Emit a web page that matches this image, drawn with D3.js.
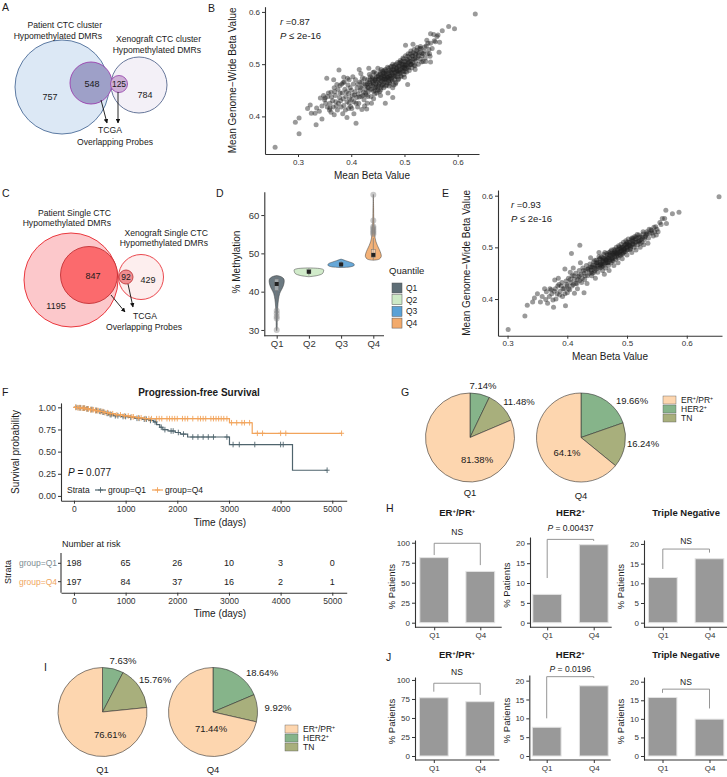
<!DOCTYPE html>
<html><head><meta charset="utf-8">
<script src="https://cdn.jsdelivr.net/npm/d3@7"></script>
<style>body{margin:0;background:#fff}svg{display:block}</style>
</head><body><svg id="c" width="727" height="777"></svg>
<script>
// ---------------- DATA ----------------
const vennACounts = [757, 548, 125, 784];   // patient only, patient∩TCGA, xeno∩TCGA, xeno only
const vennCCounts = [1195, 847, 92, 429];
const scatterB = [
[0.257,0.341],[0.295,0.389],[0.302,0.397],[0.302,0.367],[0.318,0.415],[0.323,0.422],[0.325,0.406],[0.332,0.406],[0.335,0.416],[0.334,0.384],
[0.345,0.395],[0.342,0.435],[0.351,0.435],[0.354,0.473],[0.360,0.416],[0.362,0.446],[0.367,0.470],[0.368,0.403],[0.377,0.489],[0.379,0.459],
[0.386,0.475],[0.409,0.387],[0.420,0.413],[0.429,0.414],[0.442,0.434],[0.464,0.425],[0.478,0.436],[0.506,0.461],[0.502,0.536],[0.516,0.538],
[0.530,0.534],[0.549,0.540],[0.549,0.504],[0.549,0.558],[0.555,0.557],[0.561,0.553],[0.563,0.556],[0.566,0.542],[0.565,0.523],[0.571,0.564],
[0.583,0.572],[0.594,0.568],[0.633,0.596],[0.558,0.543],[0.542,0.546],[0.533,0.521],
[0.380,0.430],[0.383,0.445],[0.386,0.421],[0.388,0.452],[0.390,0.438],[0.392,0.428],[0.394,0.460],[0.395,0.444],[0.397,0.434],[0.399,0.419],
[0.400,0.450],[0.402,0.440],[0.404,0.462],[0.405,0.428],[0.407,0.447],[0.408,0.470],[0.410,0.436],[0.411,0.455],[0.413,0.443],[0.414,0.425],
[0.416,0.466],[0.417,0.450],[0.419,0.438],[0.420,0.458],[0.421,0.474],[0.423,0.446],[0.424,0.432],[0.426,0.462],[0.427,0.452],[0.428,0.441],
[0.430,0.470],[0.431,0.456],[0.432,0.447],[0.434,0.480],[0.435,0.463],[0.436,0.452],[0.437,0.438],[0.439,0.472],[0.440,0.458],[0.441,0.465],
[0.442,0.448],[0.443,0.485],[0.444,0.470],[0.445,0.455],[0.446,0.462],[0.447,0.476],[0.448,0.445],[0.449,0.466],[0.450,0.492],[0.451,0.458],
[0.452,0.472],[0.453,0.464],[0.454,0.481],[0.455,0.450],[0.456,0.468],[0.457,0.476],[0.458,0.460],[0.459,0.487],[0.460,0.470],[0.461,0.455],
[0.462,0.478],[0.463,0.466],[0.464,0.490],[0.465,0.472],[0.466,0.460],[0.467,0.482],[0.468,0.475],[0.469,0.445],[0.470,0.468],[0.471,0.488],
[0.472,0.478],[0.473,0.462],[0.474,0.495],[0.475,0.473],[0.476,0.483],[0.477,0.468],[0.478,0.455],[0.479,0.490],[0.480,0.478],[0.481,0.470],
[0.482,0.498],[0.483,0.484],[0.484,0.465],[0.485,0.491],[0.486,0.476],[0.487,0.503],[0.488,0.486],[0.489,0.472],[0.490,0.495],[0.491,0.482],
[0.492,0.507],[0.493,0.490],[0.494,0.476],[0.495,0.500],[0.496,0.487],[0.497,0.512],[0.498,0.494],[0.499,0.480],[0.500,0.505],[0.501,0.491],
[0.502,0.516],[0.503,0.498],[0.504,0.485],[0.505,0.509],[0.506,0.495],[0.507,0.520],[0.508,0.503],[0.509,0.488],[0.510,0.512],[0.511,0.499],
[0.512,0.525],[0.513,0.506],[0.514,0.493],[0.515,0.516],[0.516,0.503],[0.518,0.528],[0.519,0.510],[0.520,0.497],[0.521,0.519],[0.522,0.506],
[0.524,0.532],[0.525,0.513],[0.526,0.500],[0.528,0.522],[0.530,0.510],[0.531,0.530],[0.533,0.516],[0.535,0.505],[0.537,0.525],[0.539,0.512],
[0.541,0.535],[0.543,0.520],[0.546,0.528],[0.548,0.515],
[0.365,0.430],[0.370,0.440],[0.372,0.420],[0.375,0.452],[0.378,0.436],[0.360,0.425],[0.355,0.418],[0.350,0.432],[0.345,0.420],[0.340,0.410],
[0.348,0.440],[0.357,0.445],[0.362,0.408],[0.368,0.455],[0.374,0.412],[0.384,0.405],[0.392,0.398],[0.396,0.470],[0.401,0.415],[0.412,0.418],
[0.418,0.482],[0.425,0.420],[0.433,0.492],[0.438,0.425],
[0.445,0.468],[0.450,0.470],[0.455,0.474],[0.460,0.478],[0.465,0.480],[0.470,0.483],[0.475,0.487],[0.480,0.489],[0.485,0.493],[0.490,0.497],
[0.495,0.492],[0.500,0.498],[0.452,0.462],[0.458,0.467],[0.463,0.471],[0.468,0.474],[0.473,0.477],[0.478,0.480],[0.483,0.478],[0.488,0.482],
[0.447,0.457],[0.442,0.462],[0.437,0.460],[0.432,0.455],[0.440,0.475],[0.447,0.482],[0.455,0.485],[0.462,0.488],[0.470,0.492],[0.476,0.496],
[0.484,0.500],[0.492,0.502],[0.498,0.486],[0.504,0.492],[0.510,0.505],[0.516,0.510],[0.505,0.500],[0.512,0.500],[0.450,0.450],[0.456,0.455],
[0.465,0.458],[0.472,0.465],
[0.352,0.425],[0.356,0.438],[0.359,0.412],[0.363,0.437],[0.366,0.418],[0.369,0.447],[0.371,0.428],[0.373,0.461],[0.376,0.425],[0.379,0.445],
[0.381,0.418],[0.382,0.462],[0.385,0.434],[0.387,0.466],[0.389,0.412],[0.391,0.447],[0.393,0.473],[0.396,0.425],[0.398,0.455],[0.401,0.432],
[0.403,0.476],[0.406,0.441],[0.409,0.425],[0.412,0.462],[0.415,0.437],[0.418,0.455],[0.422,0.440],[0.425,0.472],[0.428,0.460],[0.431,0.438],
[0.434,0.466],[0.436,0.476],[0.439,0.452],[0.441,0.484],[0.444,0.443],[0.446,0.472],[0.449,0.455],[0.451,0.478],[0.453,0.447],[0.456,0.490],
[0.458,0.472],[0.461,0.462],[0.463,0.482],[0.466,0.470],[0.468,0.494],[0.471,0.458],[0.473,0.485],[0.476,0.470],[0.478,0.500],[0.481,0.484],
[0.483,0.462],[0.486,0.488],[0.488,0.470],[0.491,0.503],[0.493,0.478],[0.496,0.495],[0.498,0.510],[0.501,0.486],[0.503,0.505],[0.506,0.515],
[0.508,0.493],[0.511,0.520],[0.513,0.500],[0.516,0.522],[0.518,0.498],[0.521,0.512],[0.523,0.526],[0.526,0.516],[0.529,0.530],[0.532,0.504],
[0.535,0.520],[0.538,0.533],[0.540,0.505],[0.544,0.540],[0.547,0.520],[0.552,0.530],[0.556,0.545],[0.460,0.483],[0.465,0.486],[0.470,0.475],
[0.475,0.478],[0.480,0.495],[0.485,0.486],[0.490,0.488],[0.495,0.505],[0.500,0.493],[0.455,0.480],[0.450,0.476],[0.445,0.450],[0.440,0.468],
[0.435,0.470],[0.430,0.462],[0.427,0.445],[0.420,0.466],[0.457,0.458],[0.462,0.475],[0.467,0.465],[0.472,0.472],[0.477,0.490],[0.482,0.476],
[0.487,0.495],[0.492,0.485],[0.497,0.500],[0.502,0.500],[0.507,0.508],[0.514,0.515],[0.520,0.520],[0.525,0.523],[0.415,0.490],[0.385,0.465],
[0.395,0.415],[0.405,0.405],[0.430,0.425],[0.455,0.440],[0.480,0.460],[0.500,0.475],[0.520,0.490]
];
const scatterE = [
[0.301,0.341],[0.329,0.367],[0.333,0.388],[0.342,0.394],[0.355,0.394],[0.364,0.399],[0.365,0.414],[0.377,0.384],[0.379,0.437],[0.397,0.387],
[0.396,0.458],[0.407,0.488],[0.421,0.504],[0.412,0.411],[0.428,0.412],[0.549,0.524],[0.555,0.548],[0.559,0.556],[0.563,0.556],[0.565,0.572],
[0.566,0.546],[0.576,0.565],[0.587,0.568],[0.654,0.598],[0.545,0.539],[0.557,0.544],[0.534,0.527],[0.540,0.534],
[0.370,0.405],[0.373,0.418],[0.376,0.398],[0.380,0.420],[0.383,0.410],[0.386,0.428],[0.388,0.415],[0.391,0.432],[0.393,0.420],[0.396,0.410],
[0.398,0.435],[0.400,0.425],[0.402,0.440],[0.404,0.418],[0.406,0.432],[0.408,0.445],[0.410,0.428],[0.412,0.438],[0.414,0.450],[0.416,0.430],
[0.418,0.443],[0.420,0.455],[0.421,0.436],[0.423,0.448],[0.425,0.440],[0.426,0.460],[0.428,0.450],[0.429,0.438],[0.431,0.455],[0.432,0.465],
[0.434,0.445],[0.435,0.458],[0.437,0.450],[0.438,0.468],[0.440,0.456],[0.441,0.445],[0.442,0.462],[0.444,0.472],[0.445,0.452],[0.446,0.465],
[0.448,0.458],[0.449,0.475],[0.450,0.463],[0.451,0.452],[0.452,0.470],[0.454,0.478],[0.455,0.460],[0.456,0.468],[0.457,0.482],[0.458,0.465],
[0.459,0.455],[0.460,0.474],[0.461,0.486],[0.462,0.468],[0.463,0.478],[0.464,0.460],[0.465,0.475],[0.466,0.488],[0.467,0.470],[0.468,0.480],
[0.469,0.465],[0.470,0.490],[0.471,0.476],[0.472,0.484],[0.473,0.470],[0.474,0.495],[0.475,0.480],[0.476,0.488],[0.477,0.474],[0.478,0.496],
[0.479,0.482],[0.480,0.490],[0.481,0.477],[0.482,0.500],[0.483,0.487],[0.484,0.494],[0.485,0.480],[0.486,0.503],[0.487,0.490],[0.488,0.497],
[0.489,0.484],[0.490,0.506],[0.491,0.494],[0.492,0.500],[0.493,0.488],[0.494,0.510],[0.495,0.497],[0.496,0.504],[0.497,0.492],[0.498,0.513],
[0.499,0.500],[0.500,0.507],[0.501,0.495],[0.502,0.516],[0.504,0.503],[0.505,0.510],[0.506,0.498],[0.508,0.518],[0.509,0.506],[0.510,0.512],
[0.512,0.500],[0.513,0.521],[0.515,0.510],[0.516,0.517],[0.518,0.505],[0.520,0.524],[0.521,0.513],[0.523,0.520],[0.525,0.510],[0.527,0.526],
[0.529,0.515],[0.531,0.522],[0.533,0.530],[0.536,0.518],[0.538,0.527],[0.541,0.532],[0.544,0.522],[0.546,0.530],[0.550,0.535],[0.385,0.440],
[0.392,0.405],[0.400,0.412],[0.405,0.452],[0.410,0.460],[0.417,0.420],[0.422,0.470],[0.433,0.430],[0.439,0.480],[0.447,0.440],[0.453,0.490],
[0.462,0.448],[0.470,0.455],[0.478,0.465],[0.485,0.470],[0.492,0.478],[0.500,0.485],[0.508,0.490],[0.515,0.495],[0.522,0.500],[0.528,0.505],
[0.535,0.508],[0.455,0.470],[0.460,0.472],[0.465,0.476],[0.470,0.480],[0.475,0.484],[0.480,0.486],[0.485,0.490],[0.490,0.493],[0.495,0.496],
[0.500,0.500],[0.505,0.503],[0.450,0.466],[0.445,0.460],[0.440,0.462],[0.458,0.475],[0.468,0.478],[0.478,0.488],[0.488,0.492],[0.498,0.505],
[0.510,0.507],[0.520,0.512],[0.362,0.420],[0.358,0.405],[0.367,0.392],[0.350,0.410],[0.345,0.402],
[0.440,0.452],[0.443,0.466],[0.446,0.455],[0.449,0.470],[0.452,0.460],[0.455,0.478],[0.458,0.468],[0.461,0.478],[0.464,0.470],[0.467,0.485],
[0.470,0.472],[0.473,0.488],[0.476,0.478],[0.479,0.492],[0.482,0.482],[0.485,0.497],[0.488,0.486],[0.491,0.500],[0.494,0.490],[0.497,0.506],
[0.500,0.495],[0.503,0.510],[0.506,0.500],[0.509,0.514],[0.512,0.505],[0.515,0.520],[0.518,0.512],[0.521,0.520],[0.524,0.515],[0.527,0.530],
[0.530,0.520],[0.450,0.470],[0.455,0.466],[0.460,0.480],[0.465,0.470],[0.470,0.486],[0.475,0.474],[0.480,0.495],[0.485,0.484],[0.490,0.498],
[0.495,0.492],[0.500,0.510],[0.505,0.496],[0.510,0.518],[0.430,0.445],[0.427,0.455],[0.424,0.432],[0.420,0.445],[0.417,0.438],[0.414,0.430],
[0.411,0.445],[0.408,0.425],[0.405,0.438],[0.402,0.420],[0.399,0.428],[0.395,0.420],[0.390,0.425],[0.387,0.408],[0.384,0.425],[0.381,0.400],
[0.378,0.415],[0.374,0.410],[0.371,0.420],[0.434,0.458],[0.438,0.460],[0.442,0.450],[0.446,0.475],[0.453,0.482],[0.457,0.462],[0.463,0.490],
[0.468,0.470],[0.472,0.492],[0.477,0.486],[0.482,0.490],[0.487,0.500],[0.492,0.486],[0.497,0.498],[0.502,0.504],[0.507,0.515],[0.513,0.510],
[0.517,0.525],[0.522,0.508],[0.526,0.518],[0.532,0.525],[0.537,0.535],[0.542,0.528],[0.548,0.540],[0.552,0.530],[0.460,0.464],[0.466,0.480],
[0.474,0.478],[0.484,0.488],[0.494,0.500],[0.504,0.506],[0.514,0.516]
];
const quantiles = ['Q1','Q2','Q3','Q4'];
// violin density profiles: [% methylation, relative half-width]
const violinQ1 = [[29.8,0],[30.5,0.03],[32,0.035],[34,0.045],[36,0.07],[38,0.12],[39.5,0.2],[40.5,0.32],[41.5,0.44],[42.5,0.5],[43.3,0.48],[43.9,0.3],[44.2,0]];
const violinQ2 = [[43.9,0],[44.2,0.55],[44.7,0.9],[45.2,0.97],[45.7,0.98],[46.0,0.78],[46.2,0]];
const violinQ3 = [[46.3,0],[46.5,0.65],[46.9,0.88],[47.3,0.84],[47.7,0.6],[48.1,0.3],[48.5,0]];
const violinQ4 = [[48.2,0],[48.5,0.4],[49.2,0.53],[50,0.5],[51,0.4],[52,0.28],[53,0.18],[54,0.12],[55,0.09],[56,0.08],[57,0.05],[59,0.03],[62,0.02],[65.4,0]];
// box stats: [whisker low, q1, median, q3, whisker high]
const boxStats = [[37.5,40.3,42.0,43.3,44.0],[44.2,44.8,45.2,45.8,46.1],[46.5,46.8,47.1,47.5,48.0],[48.3,49.0,49.6,51.0,54.0]];
const outliersQ1 = [30.0,33.0,33.5,34.3,35.0];
const outliersQ4 = [55.0,55.4,55.8,56.2,56.6,57.0,58.6,65.3];
// Kaplan-Meier
const kmTimeTicks = [0,1000,2000,3000,4000,5000];
const kmProbTicks = [0,0.25,0.5,0.75,1];
const kmQ1Steps = [[0,1],[80,0.995],[160,0.99],[240,0.983],[320,0.975],[400,0.965],[470,0.955],[540,0.945],[610,0.932],[680,0.918],[760,0.905],[900,0.896],[1050,0.886],[1180,0.876],[1320,0.866],[1450,0.852],[1540,0.835],[1600,0.805],[1660,0.775],[1720,0.748],[1820,0.733],[1960,0.716],[2060,0.698],[2200,0.665],[3010,0.58],[4230,0.29]];
const kmQ1End = 4900;
const kmQ1Censor = [40,100,130,180,200,250,270,330,350,420,440,500,520,560,580,640,660,700,720,800,850,950,1000,1100,1220,1260,1360,1400,1480,1570,1690,1760,1880,1920,2020,2120,2300,2400,2500,2600,2700,2960,3080,3200,3500,4000,4050,4900];
const kmQ4Steps = [[0,1],[60,0.996],[140,0.99],[220,0.982],[300,0.973],[390,0.963],[480,0.953],[580,0.94],[680,0.928],[800,0.915],[950,0.903],[1080,0.893],[1200,0.882],[1350,0.872],[3010,0.826],[3450,0.707]];
const kmQ4End = 5180;
const kmQ4Censor = [30,70,100,120,160,190,210,250,280,320,350,380,420,450,470,520,560,600,650,700,750,830,900,980,1050,1120,1150,1250,1300,1380,1450,1500,1600,1650,1700,1800,1850,1900,1950,2000,2100,2150,2200,2300,2400,2450,2500,2550,2650,2700,2750,2800,2850,2900,2960,3050,3150,3250,3300,3400,3550,3650,4000,4100,5180];
const riskQ1 = [198,65,26,10,3,0];
const riskQ4 = [197,84,37,16,2,1];
// subtype composition (%), pie order: HER2+, TN, ER+/PR+
const subtypeNames = ['HER2+','TN','ER+/PR+'];
const pieG_Q1 = [7.14,11.48,81.38];
const pieG_Q4 = [19.66,16.24,64.1];
const pieI_Q1 = [7.63,15.76,76.61];
const pieI_Q4 = [18.64,9.92,71.44];
// bar panels: % patients [Q1, Q4]
const barGroups = ['Q1','Q4'];
const barH_ER = [81.38,64.1], barH_HER2 = [7.14,19.66], barH_TN = [11.48,16.24];
const barJ_ER = [76.61,71.44], barJ_HER2 = [7.63,18.64], barJ_TN = [15.76,9.92];
const sigH = ['NS','P = 0.00437','NS'];
const sigJ = ['NS','P = 0.0196','NS'];

// ---------------- DRAWING ----------------
const svg = d3.select('#c');
svg.append('rect').attr('width',727).attr('height',777).attr('fill','#fff');
const FONT = '"Liberation Sans", Arial, Helvetica, sans-serif';
function T(x,y,s,o={}){
  const t = svg.append('text').attr('x',x).attr('y',y).attr('dy','0.35em')
    .attr('font-family',FONT).attr('font-size',o.fs||9).attr('fill',o.fill||'#1a1a1a')
    .attr('text-anchor',o.anchor||'middle');
  if(o.bold) t.attr('font-weight','bold');
  if(o.italic) t.attr('font-style','italic');
  if(o.rotate) t.attr('transform',`rotate(-90,${x},${y})`);
  if(s!==null) t.text(s);
  return t;
}
// text with "+" as superscripts
function supText(x,y,s,o={}){
  const t = T(x,y,null,o); const fs=o.fs||9;
  const parts = s.split(/(\+)/).filter(p=>p.length);
  let pending = 0;
  parts.forEach(p=>{
    if(p==='+'){ t.append('tspan').attr('font-size',fs*0.62).attr('dy',-fs*0.38).text('+'); pending = fs*0.38; }
    else { const sp = t.append('tspan').text(p); if(pending){ sp.attr('dy',pending); pending=0; } }
  });
  return t;
}
function axis(kind, scale, pos, ticks, fmt, fs, domainExtent){
  const gen = (kind==='left'?d3.axisLeft:d3.axisBottom)(scale).tickValues(ticks).tickFormat(fmt)
      .tickSizeInner(3).tickSizeOuter(0).tickPadding(2);
  const g = svg.append('g').attr('transform', kind==='left'?`translate(${pos},0)`:`translate(0,${pos})`).call(gen);
  g.select('.domain').attr('stroke','#333').attr('stroke-width',1.1);
  if(domainExtent){
    g.select('.domain').attr('d', kind==='left'?`M0,${domainExtent[0]}V${domainExtent[1]}`:`M${domainExtent[0]},0H${domainExtent[1]}`);
  }
  g.selectAll('.tick line').attr('stroke','#333');
  g.selectAll('.tick text').attr('fill','#333').attr('font-size',fs).attr('font-family',FONT);
  return g;
}
function panelLetter(x,y,s){ T(x,y,s,{fs:10.5,anchor:'start'}); }

// defs: arrow
svg.append('defs').append('marker').attr('id','arr').attr('viewBox','0 0 10 10').attr('refX',9).attr('refY',5)
  .attr('markerWidth',5).attr('markerHeight',5).attr('orient','auto')
  .append('path').attr('d','M0,0L10,5L0,10z').attr('fill','#111');

// ---------- Venn panels A, C ----------
function venn(cfg, counts){
  svg.append('circle').attr('cx',cfg.big[0]).attr('cy',cfg.big[1]).attr('r',cfg.big[2]).attr('fill',cfg.bigFill).attr('stroke',cfg.bigStroke).attr('stroke-width',0.9);
  svg.append('circle').attr('cx',cfg.xen[0]).attr('cy',cfg.xen[1]).attr('r',cfg.xen[2]).attr('fill',cfg.xenFill).attr('stroke',cfg.xenStroke).attr('stroke-width',0.9);
  svg.append('circle').attr('cx',cfg.in1[0]).attr('cy',cfg.in1[1]).attr('r',cfg.in1[2]).attr('fill',cfg.in1Fill).attr('stroke',cfg.in1Stroke).attr('stroke-width',0.9);
  svg.append('circle').attr('cx',cfg.in2[0]).attr('cy',cfg.in2[1]).attr('r',cfg.in2[2]).attr('fill',cfg.in2Fill).attr('stroke',cfg.in2Stroke).attr('stroke-width',0.9);
  cfg.arrows.forEach(a=>svg.append('line').attr('x1',a[0]).attr('y1',a[1]).attr('x2',a[2]).attr('y2',a[3]).attr('stroke','#111').attr('stroke-width',0.9).attr('marker-end','url(#arr)'));
  T(cfg.lab[0][0],cfg.lab[0][1],counts[0],{fs:9});
  T(cfg.lab[1][0],cfg.lab[1][1],counts[1],{fs:9});
  T(cfg.lab[2][0],cfg.lab[2][1],counts[2],{fs:8.5});
  T(cfg.lab[3][0],cfg.lab[3][1],counts[3],{fs:9});
  cfg.texts.forEach(t=>T(t[0],t[1],t[2],{fs:8.6,anchor:t[3]}));
}
panelLetter(2,7,'A');
venn({
  big:[62,87,47], bigFill:'#dce8f5', bigStroke:'#4d6d99',
  xen:[139,85,28], xenFill:'#f3f0f7', xenStroke:'#56688f',
  in1:[91,83,21], in1Fill:'#9ea0c8', in1Stroke:'#9a3fae',
  in2:[119,84,8.5], in2Fill:'#cdb0d6', in2Stroke:'#9a4cb0',
  arrows:[[101,100,107,123],[118,92,118,123]],
  lab:[[50,97],[92,84],[119,84],[145,95]],
  texts:[[102,25,'Patient CTC cluster','end'],[102,36,'Hypomethylated DMRs','end'],
         [201,39,'Xenograft CTC cluster','end'],[201,50,'Hypomethylated DMRs','end'],
         [110,130,'TCGA','middle'],[115,142,'Overlapping Probes','middle']]
}, vennACounts);
panelLetter(2,193,'C');
venn({
  big:[71,280,47], bigFill:'#fcc8cb', bigStroke:'#e8262d',
  xen:[141,277,22.5], xenFill:'#fdeeee', xenStroke:'#e8343b',
  in1:[89,275,28.5], in1Fill:'#fb6a6d', in1Stroke:'#c33135',
  in2:[126,277,7], in2Fill:'#ef8d90', in2Stroke:'#c0393c',
  arrows:[[111,295,125,312],[128,284,133,307]],
  lab:[[56,306],[93,276],[126,277],[148,280]],
  texts:[[111,213,'Patient Single CTC','end'],[111,223,'Hypomethylated DMRs','end'],
         [208,233,'Xenograft Single CTC','end'],[208,243,'Hypomethylated DMRs','end'],
         [145,316,'TCGA','middle'],[144,327,'Overlapping Probes','middle']]
}, vennCCounts);

// ---------- Scatter panels B, E ----------
function scatter(cfg, data){
  const x = d3.scaleLinear().domain(cfg.xd).range(cfg.xr);
  const y = d3.scaleLinear().domain(cfg.yd).range(cfg.yr);
  svg.append('g').selectAll('circle').data(data).join('circle')
    .attr('cx',d=>x(d[0])).attr('cy',d=>y(d[1])).attr('r',2.5).attr('fill','#1e1e1e').attr('fill-opacity',0.45);
  axis('left', y, cfg.xr[0], [0.4,0.5,0.6], d3.format('.1f'), 8);
  axis('bottom', x, cfg.yr[0], [0.3,0.4,0.5,0.6], d3.format('.1f'), 8);
  T((cfg.xr[0]+cfg.xr[1])/2, cfg.yr[0]+21, 'Mean Beta Value', {fs:10});
  T(cfg.ylabX, (cfg.yr[0]+cfg.yr[1])/2, 'Mean Genome\u2212Wide Beta Value', {fs:10, rotate:true});
  const t1 = T(cfg.ann[0], cfg.ann[1], null, {fs:9.5, anchor:'start'});
  t1.append('tspan').attr('font-style','italic').text('r');
  t1.append('tspan').text(' =' + cfg.r);
  const t2 = T(cfg.ann[0], cfg.ann[1]+13.5, null, {fs:9.5, anchor:'start'});
  t2.append('tspan').attr('font-style','italic').text('P');
  t2.append('tspan').text(' \u2264 2e-16');
}
panelLetter(208,8,'B');
scatter({xd:[0.238,0.64], xr:[265,479], yd:[0.328,0.61], yr:[154,6.7], ylabX:233, ann:[280,22], r:'0.87'}, scatterB);
panelLetter(442,193,'E');
scatter({xd:[0.284,0.659], xr:[498,722], yd:[0.329,0.611], yr:[335.7,190], ylabX:467, ann:[511,205], r:'0.93'}, scatterE);

// ---------- Panel D : violins ----------
panelLetter(216,193,'D');
{
  const yD = d3.scaleLinear().domain([28.5,66.1]).range([335.7,191.7]);
  const xD = d3.scalePoint().domain(quantiles).range([276.7,373.3]);
  const fills = ['#5e6e76','#cde9c6','#5aa1d5','#f2aa6b'];
  const profiles = [violinQ1, violinQ2, violinQ3, violinQ4];
  const W = 15;
  profiles.forEach((p,i)=>{
    const cx = xD(quantiles[i]);
    const area = d3.area().y(d=>yD(d[0])).x0(d=>cx-d[1]*W).x1(d=>cx+d[1]*W).curve(d3.curveCatmullRom);
    svg.append('path').attr('d',area(p)).attr('fill',fills[i]).attr('fill-opacity',0.92).attr('stroke','#3a3a3a').attr('stroke-width',0.5);
  });
  outliersQ1.forEach(v=>svg.append('circle').attr('cx',xD('Q1')).attr('cy',yD(v)).attr('r',3).attr('fill','#888').attr('fill-opacity',0.45));
  outliersQ4.forEach(v=>svg.append('circle').attr('cx',xD('Q4')).attr('cy',yD(v)).attr('r',3).attr('fill','#888').attr('fill-opacity',0.45));
  boxStats.forEach((b,i)=>{
    const cx = xD(quantiles[i]);
    svg.append('line').attr('x1',cx).attr('x2',cx).attr('y1',yD(b[0])).attr('y2',yD(b[4])).attr('stroke','#777').attr('stroke-width',0.7);
    svg.append('rect').attr('x',cx-2).attr('width',4).attr('y',yD(b[3])).attr('height',yD(b[1])-yD(b[3]))
      .attr('fill','#fff').attr('fill-opacity',0.35).attr('stroke','#777').attr('stroke-width',0.5);
    svg.append('rect').attr('x',cx-2).attr('y',yD(b[2])-2).attr('width',4).attr('height',4).attr('fill','#222');
  });
  axis('left', yD, 264.3, [30,40,50,60], d3.format('d'), 9.5);
  axis('bottom', xD, 335.7, quantiles, d=>d, 9.5, [264.3,384]);
  T(236, 262, '% Methylation', {fs:10, rotate:true});
  T(389, 271, 'Quantile', {fs:9.5, anchor:'start'});
  quantiles.forEach((q,i)=>{
    const yy = 288 + i*11.7;
    svg.append('rect').attr('x',392).attr('y',yy-5).attr('width',10).attr('height',10).attr('fill',fills[i]).attr('stroke','#555').attr('stroke-width',0.5);
    T(406, yy, q, {fs:8.5, anchor:'start'});
  });
}

// ---------- Panel F : Kaplan-Meier ----------
panelLetter(2,392,'F');
{
  const xF = d3.scaleLinear().domain([-251,5279]).range([61,346.7]);
  const yF = d3.scaleLinear().domain([-0.054,1.05]).range([500.7,402.9]);
  const cQ1 = '#4f646d', cQ4 = '#f2a45b';
  T(199, 392, 'Progression-free Survival', {fs:10, bold:true});
  const stepLine = d3.line().x(d=>xF(d[0])).y(d=>yF(d[1])).curve(d3.curveStepAfter);
  function survAt(steps,t){ let s=1; steps.forEach(d=>{ if(d[0]<=t) s=d[1]; }); return s; }
  function plus(x,y,c){ svg.append('path').attr('d',`M${x-2.5},${y}H${x+2.5}M${x},${y-2.8}V${y+2.8}`).attr('stroke',c).attr('stroke-width',0.9); }
  [[kmQ1Steps,kmQ1End,kmQ1Censor,cQ1],[kmQ4Steps,kmQ4End,kmQ4Censor,cQ4]].forEach(([st,end,cen,c])=>{
    const pts = st.concat([[end, st[st.length-1][1]]]);
    svg.append('path').attr('d',stepLine(pts)).attr('fill','none').attr('stroke',c).attr('stroke-width',1.2);
    cen.forEach(t=>plus(xF(t), yF(survAt(st,t)), c));
  });
  axis('left', yF, 61, kmProbTicks, d3.format('.2f'), 9);
  axis('bottom', xF, 500.7, kmTimeTicks, d3.format('d'), 8.5);
  T(220, 522, 'Time (days)', {fs:10});
  T(15, 452, 'Survival probability', {fs:10, rotate:true});
  const pt = T(68, 472, null, {fs:10, anchor:'start'});
  pt.append('tspan').attr('font-style','italic').text('P');
  pt.append('tspan').text(' = 0.077');
  T(67, 490, 'Strata', {fs:8.5, anchor:'start'});
  svg.append('line').attr('x1',95).attr('x2',106).attr('y1',490).attr('y2',490).attr('stroke',cQ1).attr('stroke-width',1.2);
  plus(100.5,490,cQ1);
  T(108, 490, 'group=Q1', {fs:8.5, anchor:'start'});
  svg.append('line').attr('x1',152).attr('x2',163).attr('y1',490).attr('y2',490).attr('stroke',cQ4).attr('stroke-width',1.2);
  plus(157.5,490,cQ4);
  T(165, 490, 'group=Q4', {fs:8.5, anchor:'start'});
  T(62, 544, 'Number at risk', {fs:9, anchor:'start'});
  const rowY = [563.3, 581.7];
  [[riskQ1,cQ1,'group=Q1'],[riskQ4,cQ4,'group=Q4']].forEach(([r,c,lab],i)=>{
    kmTimeTicks.forEach((t,j)=>T(xF(t), rowY[i], r[j], {fs:9}));
    T(57, rowY[i], lab, {fs:8.5, anchor:'end', fill: i===0?'#7d8c93':'#f0a65e'});
    svg.append('line').attr('x1',58).attr('x2',61).attr('y1',rowY[i]).attr('y2',rowY[i]).attr('stroke','#333');
  });
  svg.append('line').attr('x1',61).attr('x2',61).attr('y1',553).attr('y2',592.7).attr('stroke','#333').attr('stroke-width',1.1);
  axis('bottom', xF, 592.7, kmTimeTicks, d3.format('d'), 8.5);
  T(220, 613, 'Time (days)', {fs:10});
  T(8, 572, 'Strata', {fs:9, rotate:true});
}

// ---------- Pies G, I ----------
const subtypeColors = ['#86b48a','#a8af7c','#fdd6af'];
function pie(cx, cy, vals, labelOffsets, groupLabel, gy){
  const arcs = d3.pie().sort(null).value(d=>d)(vals);
  const arc = d3.arc().innerRadius(0).outerRadius(44.5);
  const g = svg.append('g').attr('transform',`translate(${cx},${cy})`);
  g.selectAll('path').data(arcs).join('path').attr('d',arc).attr('fill',(d,i)=>subtypeColors[i]).attr('stroke','#333').attr('stroke-width',0.6);
  vals.forEach((v,i)=>T(cx+labelOffsets[i][0], cy+labelOffsets[i][1], v+'%', {fs:9.5}));
  T(cx, gy, groupLabel, {fs:9.5});
}
function pieLegend(x, y0){
  const order = [2,0,1];
  order.forEach((k,i)=>{
    const yy = y0 + i*9;
    svg.append('rect').attr('x',x).attr('y',yy-4).attr('width',13).attr('height',8).attr('fill',subtypeColors[k]).attr('stroke','#555').attr('stroke-width',0.4);
    supText(x+18, yy, subtypeNames[k], {fs:8.5, anchor:'start'});
  });
}
panelLetter(401,392,'G');
pie(470,437.5,pieG_Q1,[[13,-51.5],[49,-35.5],[7,22.5]],'Q1',493);
pie(581,437.5,pieG_Q4,[[51,-36.5],[62,6.5],[-14,15.5]],'Q4',496);
pieLegend(663,400);
panelLetter(44,667,'I');
pie(102.5,712,pieI_Q1,[[20.5,-51],[52.5,-32],[7.5,23]],'Q1',770);
pie(213,712,pieI_Q4,[[49,-39],[65,-4],[-2,17]],'Q4',770);
pieLegend(285,729);

// ---------- Bars H, J ----------
const barTitles = ['ER+/PR+','HER2+','Triple Negative'];
function barPanel(cfg, vals, sig, title){
  const y = d3.scaleLinear().domain(cfg.yd).range(cfg.yr);
  const x = d3.scalePoint().domain(barGroups).range([cfg.c1, cfg.c2]);
  const bw = 28.8;
  svg.append('g').selectAll('rect').data(vals).join('rect')
    .attr('x',(d,i)=>x(barGroups[i])-bw/2).attr('width',bw)
    .attr('y',d=>y(d)).attr('height',d=>y(0)-y(d))
    .attr('fill','#999999').attr('stroke','#e4e4e4').attr('stroke-width',1);
  axis('left', y, cfg.ax, cfg.ticks, d3.format('d'), 8);
  axis('bottom', x, cfg.yr[0], barGroups, d=>d, 8, [cfg.ax, cfg.xEnd]);
  T(cfg.ax-23, (cfg.yr[0]+cfg.yr[1])/2+3, '% Patients', {fs:9.5, rotate:true});
  supText((cfg.c1+cfg.c2)/2, cfg.titleY, title, {fs:9.5, bold:true});
  const b = cfg.br;
  svg.append('path').attr('d',`M${x('Q1')},${y(b[0])}V${y(b[1])}H${x('Q4')}V${y(b[2])}`).attr('fill','none').attr('stroke','#8a8a8a').attr('stroke-width',0.9);
  if(sig.startsWith('P')){
    const t = T((cfg.c1+cfg.c2)/2, cfg.sigY, null, {fs:8.5});
    t.append('tspan').attr('font-style','italic').text('P');
    t.append('tspan').text(sig.slice(1));
  } else T((cfg.c1+cfg.c2)/2, cfg.sigY, sig, {fs:8.5});
}
panelLetter(386,508,'H');
barPanel({ax:415,xEnd:501.7,c1:434.2,c2:480.3,yd:[-5.75,103.4],yr:[627.3,540],ticks:[0,25,50,75,100],titleY:513,sigY:531.7,br:[84.6,99.3,72]}, barH_ER, sigH[0], barTitles[0]);
barPanel({ax:530,xEnd:611.7,c1:547.2,c2:593.7,yd:[-1.16,21.6],yr:[627.3,537],ticks:[0,5,10,15,20],titleY:513,sigY:528.3,br:[11.26,21.0,20.6]}, barH_HER2, sigH[1], barTitles[1]);
barPanel({ax:644,xEnd:727,c1:662.8,c2:709.5,yd:[-1.17,21.0],yr:[627.3,540],ticks:[0,5,10,15,20],titleY:513,sigY:541,br:[13.65,18.7,17.8]}, barH_TN, sigH[2], barTitles[2]);
panelLetter(386,657,'J');
barPanel({ax:415,xEnd:499.3,c1:433.8,c2:480.2,yd:[-5.26,103.9],yr:[760,677],ticks:[0,25,50,75,100],titleY:655,sigY:671.7,br:[84.6,95.7,80.3]}, barJ_ER, sigJ[0], barTitles[0]);
barPanel({ax:529.3,xEnd:610.7,c1:546.7,c2:593.8,yd:[-1.06,21.5],yr:[760,675],ticks:[0,5,10,15,20],titleY:655,sigY:669,br:[10.0,21.06,20.7]}, barJ_HER2, sigJ[1], barTitles[1]);
barPanel({ax:644,xEnd:727,c1:662.5,c2:709.5,yd:[-1.08,21.27],yr:[760,677],ticks:[0,5,10,15,20],titleY:655,sigY:681.7,br:[17.0,18.0,12.8]}, barJ_TN, sigJ[2], barTitles[2]);
</script></body></html>
